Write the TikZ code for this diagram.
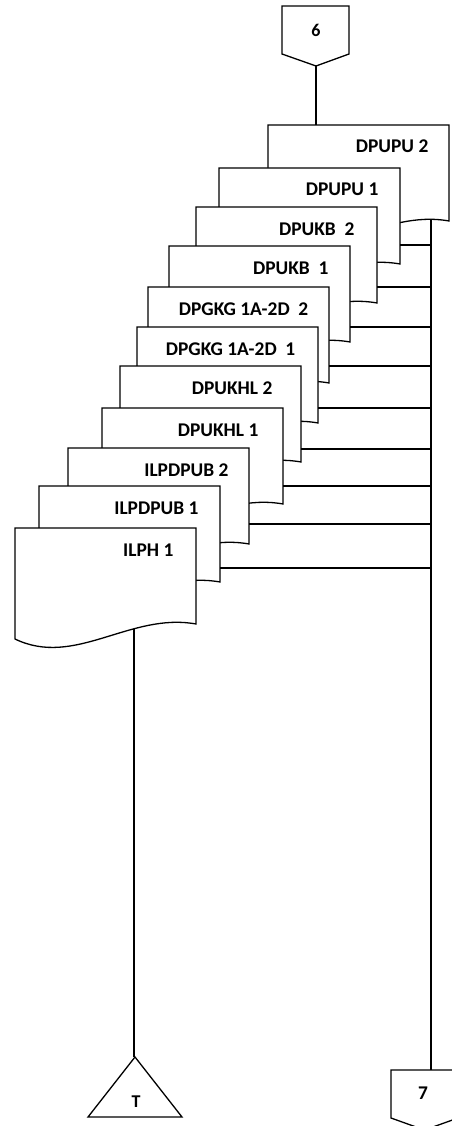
\documentclass[tikz,border=0pt]{standalone}
\usepackage{fontspec}
\setmainfont{Carlito}
\tikzset{
  doctext/.style={font=\bfseries\fontsize{19.4}{20}\selectfont, inner sep=0pt, anchor=base east},
  context/.style={font=\bfseries\fontsize{#1}{20}\selectfont, inner sep=0pt},
  context/.default=18,
  pics/doc/.style n args={3}{code={
    \draw[fill=white] (0,0) -- (181,0) -- (181,96) .. controls (115,84) and (60,140) .. (0,111) -- cycle;
    \node[doctext] (-label) at (181-#2,28) {#1};
    \coordinate (-top) at (49,0);
    \coordinate (-out) at (181,#3);
    \coordinate (-bus) at (163,94.4);
    \coordinate (-bot) at (119,100.7);
  }}
}
\begin{document}
\begin{tikzpicture}[x=1pt, y=-1pt, line width=1.3pt, line join=miter]
\useasboundingbox (0,0) rectangle (452,1126);
% off-page connector 6
\draw (282,6) -- (349,6) -- (349,54) -- (316,66) -- (282,54) -- cycle;
\node[context=18] (c6) at (316,30) {6};
\coordinate (c6b) at (316,66);
% documents, back to front
\pic (d1) at (268,125) {doc={DPUPU 2}{20}{0}};
\pic (d2) at (219,168) {doc={DPUPU 1}{21}{77}};
\pic (d3) at (196,207) {doc={DPUKB\ \ 2}{22}{80}};
\pic (d4) at (169,246) {doc={DPUKB\ \ 1}{21}{81}};
\pic (d5) at (148,287) {doc={DPGKG 1A-2D\ \ 2}{20}{79}};
\pic (d6) at (137,327) {doc={DPGKG 1A-2D\ \ 1}{22}{81}};
\pic (d7) at (120,366) {doc={DPUKHL 2}{28}{83}};
\pic (d8) at (102,408) {doc={DPUKHL 1}{24}{78}};
\pic (d9) at (68,448) {doc={ILPDPUB 2}{20}{76}};
\pic (d10) at (39,486) {doc={ILPDPUB 1}{21}{82}};
\pic (d11) at (15,528) {doc={ILPH 1}{22}{80}};
% connector 6 to first document
\draw (c6b) -- (c6b |- d1-top);
% off-page connector 7
\draw (391,1070) -- (458,1070) -- (458,1118) -- (424.5,1130) -- (391,1118) -- cycle;
\node[context=19.4] (c7) at (423,1093) {7};
\coordinate (c7t) at (431,1070);
% bus
\draw (d1-bus) -- (d1-bus |- c7t);
\foreach \d in {d2,d3,d4,d5,d6,d7,d8,d9,d10} {
  \draw (\d-out) -- (\d-out -| d1-bus);
}
% terminator T
\draw (135,1057) -- (182,1117) -- (88,1117) -- cycle;
\node[context=18] (tT) at (136,1102) {T};
\coordinate (tTa) at (135,1057);
\draw (d11-bot) -- (d11-bot |- tTa);
\end{tikzpicture}
\end{document}
